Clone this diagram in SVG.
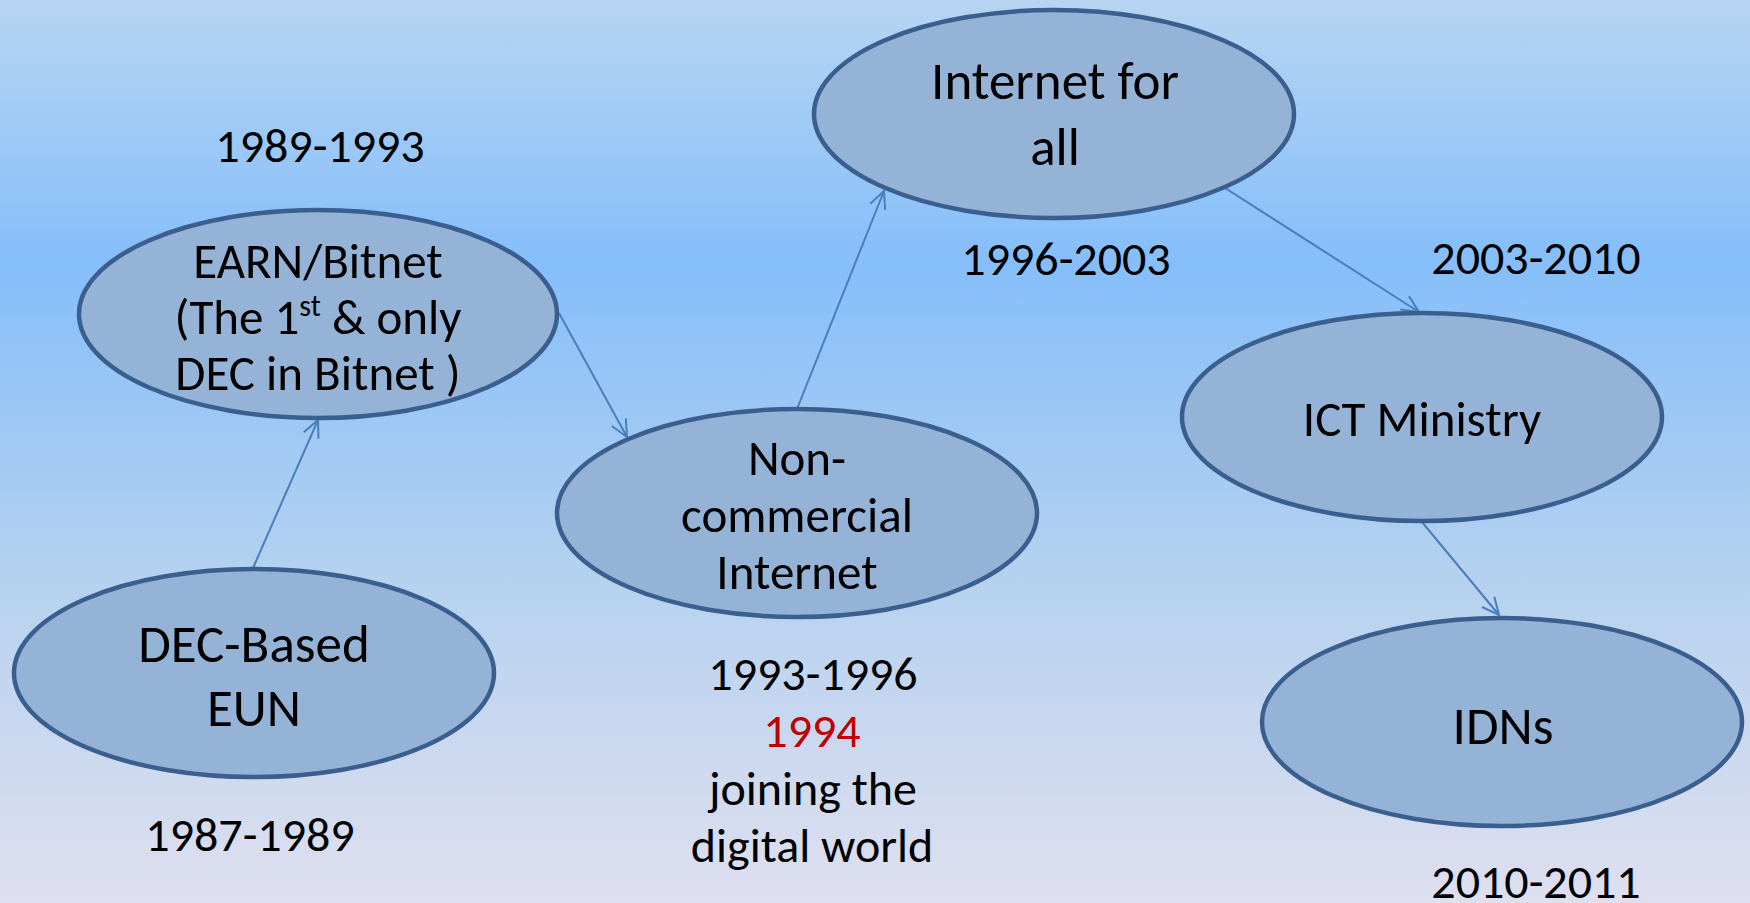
<svg xmlns="http://www.w3.org/2000/svg" width="1750" height="903" viewBox="0 0 1750 903">
<defs>
<linearGradient id="bg" x1="0" y1="0" x2="0" y2="1">
<stop offset="0" stop-color="#b7d5f2"/>
<stop offset="0.29" stop-color="#85befa"/>
<stop offset="0.65" stop-color="#b6d2ef"/>
<stop offset="1" stop-color="#dfdff0"/>
</linearGradient>
<marker id="arr" markerUnits="userSpaceOnUse" markerWidth="24" markerHeight="24" viewBox="-20 -12 24 24" refX="0" refY="0" orient="auto">
<path d="M-17,-8 L0,0 L-17,8" fill="none" stroke="#4a7ebb" stroke-width="2"/>
</marker>
<style>
.node ellipse{fill:#95b3d7;stroke:#3a5f8f;stroke-width:4.5}
text{font-family:Calibri,Carlito,"Liberation Sans",Arial,sans-serif;fill:#000;text-anchor:middle}
.t{font-size:49px}
.tb{font-size:53px}
.d{font-size:48px}
.red{fill:#c00000}
.conn line{stroke:#4a7ebb;stroke-width:2;marker-end:url(#arr)}
</style>
</defs>
<rect x="0" y="0" width="1750" height="903" fill="url(#bg)"/>
<g id="connectors" class="conn">
<line x1="253" y1="568" x2="318" y2="420"/>
<line x1="559" y1="313" x2="627" y2="437"/>
<line x1="797" y1="409" x2="884" y2="191"/>
<line x1="1225" y1="188" x2="1419" y2="312"/>
<line x1="1422" y1="522" x2="1499" y2="615"/>
</g>
<g id="node-dec" class="node">
<ellipse cx="254" cy="673" rx="240" ry="104"/>
<text class="tb" x="254" y="662">DEC-Based</text>
<text class="tb" x="254" y="726">EUN</text>
</g>
<g id="node-earn" class="node">
<ellipse cx="318" cy="314" rx="239" ry="104"/>
<text class="t" x="318" y="278">EARN/Bitnet</text>
<text class="t" x="318" y="334">(The 1<tspan font-size="30" dy="-18">st</tspan><tspan dy="18"> &amp; only</tspan></text>
<text class="t" x="318" y="390">DEC in Bitnet )</text>
</g>
<g id="node-noncom" class="node">
<ellipse cx="797" cy="513" rx="240" ry="104"/>
<text class="t" x="797" y="475">Non-</text>
<text class="t" x="797" y="532">commercial</text>
<text class="t" x="797" y="589">Internet</text>
</g>
<g id="node-internet" class="node">
<ellipse cx="1054" cy="114" rx="240" ry="104"/>
<text class="tb" x="1055" y="99">Internet for</text>
<text class="tb" x="1055" y="165">all</text>
</g>
<g id="node-ict" class="node">
<ellipse cx="1422" cy="417" rx="240" ry="104"/>
<text class="t" x="1422" y="436">ICT Ministry</text>
</g>
<g id="node-idns" class="node">
<ellipse cx="1502" cy="722" rx="240" ry="104"/>
<text class="tb" x="1503" y="744">IDNs</text>
</g>
<g id="labels">
<text class="d" x="320" y="162">1989-1993</text>
<text class="d" x="250" y="851">1987-1989</text>
<text class="d" x="813" y="690">1993-1996</text>
<text class="d red" x="812" y="747">1994</text>
<text class="d" x="813" y="805">joining the</text>
<text class="d" x="812" y="862">digital world</text>
<text class="d" x="1066" y="275">1996-2003</text>
<text class="d" x="1536" y="274">2003-2010</text>
<text class="d" x="1536" y="898">2010-2011</text>
</g>
</svg>
